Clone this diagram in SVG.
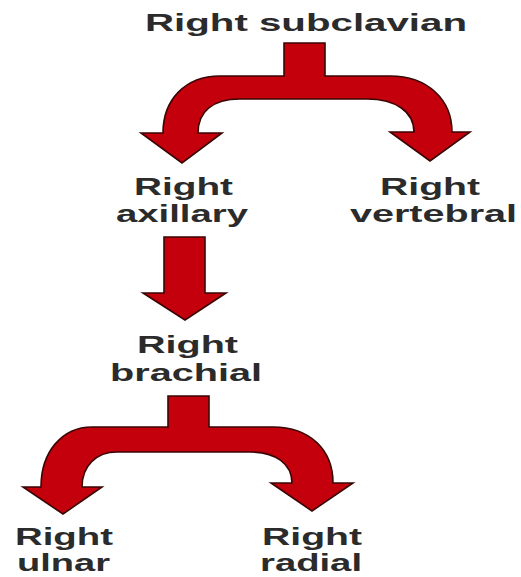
<svg xmlns="http://www.w3.org/2000/svg" width="521" height="577" viewBox="0 0 521 577">
  <style>
    .arrow { fill: #c4000c; stroke: #3a0505; stroke-width: 1.6; stroke-linejoin: miter; }
    .lbl { font-family: "Liberation Sans", Arial, sans-serif; font-weight: bold; font-size: 24px; fill: #2b2b2b; }
  </style>
  <rect width="521" height="577" fill="#ffffff"/>
  <g id="connectors">
    <path class="arrow" d="M 284,43 L 325,43 L 325,76 L 390,76 C 428,76 452,100 452,132 L 470,132 L 430,161 L 390,132 L 414,132 C 414,112 396,99 367,99 L 240,99 C 212,99 198,112 198,133 L 222,133 L 182,163 L 141,133 L 163,133 C 163,100 185,76 220,76 L 284,76 Z"/>
    <path class="arrow" d="M 164,237 L 205,237 L 205,293 L 226,293 L 185,320 L 143,293 L 164,293 Z"/>
    <path class="arrow" d="M 168,396 L 209,396 L 209,427 L 273,427 C 310,427 333,450 333,483 L 353,483 L 312,511 L 271,483 L 292,483 C 292,464 276,452 250,452 L 117,452 C 96,452 82,466 82,487 L 102,487 L 63,514 L 23,487 L 41,487 C 41,452 62,427 92,427 L 168,427 Z"/>
  </g>
  <g id="subclavian">
    <text class="lbl" x="145" y="31" font-size="23" textLength="322" lengthAdjust="spacingAndGlyphs">Right subclavian</text>
  </g>
  <g id="axillary">
    <text class="lbl" x="134" y="195" textLength="99" lengthAdjust="spacingAndGlyphs">Right</text>
    <text class="lbl" x="116" y="222" textLength="132" lengthAdjust="spacingAndGlyphs">axillary</text>
  </g>
  <g id="vertebral">
    <text class="lbl" x="380" y="195" textLength="100" lengthAdjust="spacingAndGlyphs">Right</text>
    <text class="lbl" x="350" y="222" textLength="167" lengthAdjust="spacingAndGlyphs">vertebral</text>
  </g>
  <g id="brachial">
    <text class="lbl" x="137" y="353" textLength="101" lengthAdjust="spacingAndGlyphs">Right</text>
    <text class="lbl" x="110" y="381" textLength="152" lengthAdjust="spacingAndGlyphs">brachial</text>
  </g>
  <g id="ulnar">
    <text class="lbl" x="15" y="545" textLength="98" lengthAdjust="spacingAndGlyphs">Right</text>
    <text class="lbl" x="17" y="571" textLength="93" lengthAdjust="spacingAndGlyphs">ulnar</text>
  </g>
  <g id="radial">
    <text class="lbl" x="262" y="545" textLength="100" lengthAdjust="spacingAndGlyphs">Right</text>
    <text class="lbl" x="260" y="571" textLength="102" lengthAdjust="spacingAndGlyphs">radial</text>
  </g>
</svg>
